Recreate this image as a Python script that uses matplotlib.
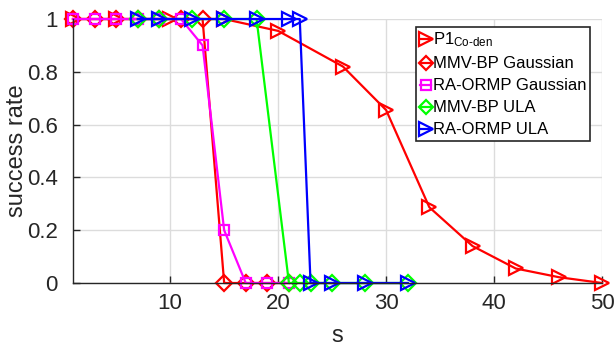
import matplotlib
matplotlib.use("Agg")
import matplotlib.pyplot as plt

plt.rcParams['font.family'] = ['Liberation Sans', 'DejaVu Sans']
plt.rcParams['mathtext.fontset'] = 'custom'
plt.rcParams['mathtext.rm'] = 'Liberation Sans'
plt.rcParams['mathtext.it'] = 'Liberation Sans:italic'

# Data
s_p1 = [1, 5, 10, 15, 20, 26, 30, 34, 38, 42, 46, 50]
rate_p1 = [1, 1, 1, 1, 0.955, 0.82, 0.655, 0.287, 0.14, 0.055, 0.022, 0.0]

s_gauss = [1, 3, 5, 7, 9, 11, 13, 15, 17, 19, 21]
rate_mmv_gauss = [1, 1, 1, 1, 1, 1, 1, 0, 0, 0, 0]
rate_ra_gauss = [1, 1, 1, 1, 1, 1, 0.9, 0.2, 0, 0, 0]

s_ula = [7, 9, 12, 15, 18, 21, 22, 23, 25, 28, 32]
rate_mmv_ula = [1, 1, 1, 1, 1, 0, 0, 0, 0, 0, 0]
rate_ra_ula = [1, 1, 1, 1, 1, 1, 1, 0, 0, 0, 0]

labels = ['P1$_{\\mathrm{Co‐den}}$', 'MMV-BP Gaussian', 'RA-ORMP Gaussian',
          'MMV-BP ULA', 'RA-ORMP ULA']

fig = plt.figure(figsize=(6.15, 3.47), dpi=100)
ax = fig.add_axes([0.1187, 0.1844, 0.8603, 0.7608])

lw = 1.6
kw = dict(lw=lw, markerfacecolor='none', markeredgewidth=1.6, clip_on=False)
ax.plot(s_p1, rate_p1, color=(1, 0, 0), marker='>', markersize=10.5, label=labels[0], **kw)
ax.plot(s_gauss, rate_mmv_gauss, color=(1, 0, 0), marker='D', markersize=8, label=labels[1], **kw)
ax.plot(s_gauss, rate_ra_gauss, color=(1, 0, 1), marker='s', markersize=7.5, label=labels[2], **kw)
ax.plot(s_ula, rate_mmv_ula, color=(0, 1, 0), marker='D', markersize=8, label=labels[3], **kw)
ax.plot(s_ula, rate_ra_ula, color=(0, 0, 1), marker='>', markersize=10.5, label=labels[4], **kw)

ax.set_xlim(1, 50)
ax.set_ylim(0, 1)
ax.set_xticks([10, 20, 30, 40, 50])
ax.set_yticks([0, 0.2, 0.4, 0.6, 0.8, 1])
ax.set_yticklabels(['0', '0.2', '0.4', '0.6', '0.8', '1'])
ax.tick_params(direction='in', labelsize=16, color='#262626', labelcolor='#262626',
               length=5, width=1)
ax.tick_params(axis='y', pad=11)
ax.tick_params(axis='x', pad=7)
ax.grid(True, color='#dcdcdc', lw=1)
ax.set_axisbelow(True)
for side in ['top', 'right']:
    ax.spines[side].set_visible(False)
for side in ['left', 'bottom']:
    ax.spines[side].set_color('#262626')
    ax.spines[side].set_linewidth(1)

ax.set_xlabel('s', fontsize=17, color='#262626', labelpad=8)
ax.set_ylabel('success rate', fontsize=17, color='#262626', labelpad=-1)

leg = ax.legend(loc='upper right', bbox_to_anchor=(0.977, 0.968), fontsize=12,
                handlelength=0.7, handletextpad=0.1, borderpad=0.2,
                labelspacing=0.42, borderaxespad=0, fancybox=False,
                framealpha=1, edgecolor='#262626')
leg.get_frame().set_linewidth(1.2)
for h in leg.legend_handles:
    h.set_markersize(h.get_markersize() * 0.9)

fig.savefig('out.png', dpi=100)
